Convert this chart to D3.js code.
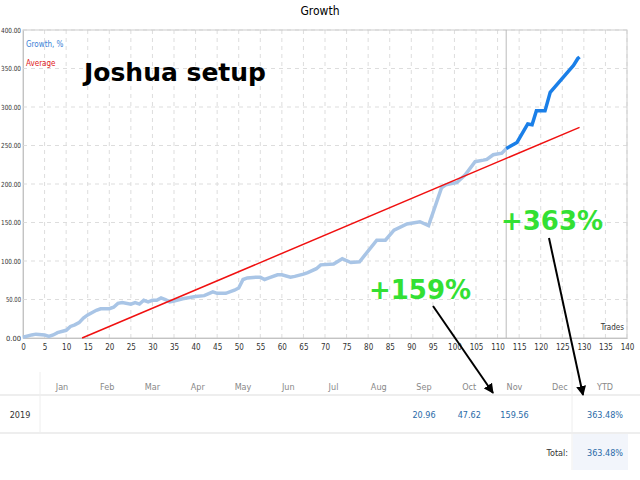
<!DOCTYPE html>
<html><head><meta charset="utf-8">
<script src="https://cdn.jsdelivr.net/npm/d3@7"></script>
<style>body{margin:0;background:#fff}text{font-family:"DejaVu Sans Condensed","Liberation Sans Narrow",sans-serif}</style>
</head><body><svg></svg>
<script>
const width = 640, height = 480
const trades = [0,2,3,5,6,7,8,10,11,12,13,14,15,17,18,20,21,22,23,25,26,27,28,29,30,31,32,33,34,35,37,40,42,44,45,47,49,50,51,52,54,55,56,57,59,60,62,63,65,66,68,69,72,74,76,78,82,84,86,89,92,94,97,98,100.6,102.5,104.8,106.7,107.5,109,111,112]
const growth = [1,4,5,4,2,4,7,10,15,17,20,26,30,36,38,38,40,45,46,44,46,44,49,47,49,49,52,50,47,48,51,54,55,60,58,58,62,65,76,78,79,79,76,78,82,82,79,80,83,85,90,95,96,103,98,99,127,127,140,148,151,146,195,199,202,212,229,231,232,238,240,246]
const trades2 = [112,114.5,117,118,119,121,122.2,124.5,126.8,127.6,128.6,129]
const growth2 = [246,254,278,277,295,295,319,334,349,354,363,365]
const avgTrades = [13.7, 129]
const avgValues = [0, 273.6]
const months = ['Jan','Feb','Mar','Apr','May','Jun','Jul','Aug','Sep','Oct','Nov','Dec','YTD']
const monthValues = ['','','','','','','','','20.96','47.62','159.56','','363.48%']

const svg = d3.select('svg').attr('width', width).attr('height', height)
const x = d3.scaleLinear().domain([0, 140]).range([23, 627])
const y = d3.scaleLinear().domain([0, 400]).range([338, 30])

// grid
svg.append('g').attr('transform', 'translate(0,338)')
  .call(d3.axisBottom(x).tickValues(d3.range(0, 141, 5)).tickSize(0).tickPadding(6))
  .call(g => g.select('.domain').attr('stroke', '#bbb'))
  .selectAll('text').attr('font-size', 8).attr('fill', '#333')
svg.append('g').attr('transform', 'translate(23,0)')
  .call(d3.axisLeft(y).tickValues(d3.range(0, 401, 50)).tickFormat(d3.format('.2f')).tickSize(0).tickPadding(2))
  .call(g => g.select('.domain').attr('stroke', '#bbb'))
  .selectAll('text').attr('font-size', 7).attr('fill', '#333')
    .attr('textLength', d => d >= 100 ? 20 : 15).attr('lengthAdjust', 'spacingAndGlyphs')
svg.append('g').selectAll('line').data(d3.range(5, 141, 5)).join('line')
  .attr('x1', d => x(d)).attr('x2', d => x(d)).attr('y1', 30).attr('y2', 338)
  .attr('stroke', '#ddd').attr('stroke-dasharray', '4,4')
svg.append('g').selectAll('line').data(d3.range(50, 401, 50)).join('line')
  .attr('x1', 23).attr('x2', 627).attr('y1', d => y(d)).attr('y2', d => y(d))
  .attr('stroke', '#ddd').attr('stroke-dasharray', '4,4')
svg.append('rect').attr('x', 23).attr('y', 30).attr('width', 604).attr('height', 308)
  .attr('fill', 'none').attr('stroke', '#ccc')
svg.append('line').attr('x1', x(112)).attr('x2', x(112)).attr('y1', 30).attr('y2', 338).attr('stroke', '#bbb')

const line = d3.line().x(d => x(d[0])).y(d => y(d[1]))
svg.append('path').datum(d3.zip(trades, growth)).attr('d', line)
  .attr('fill', 'none').attr('stroke', '#a9c5e6').attr('stroke-width', 3.5)
svg.append('path').datum(d3.zip(trades2, growth2)).attr('d', line)
  .attr('fill', 'none').attr('stroke', '#1a7fe8').attr('stroke-width', 3.5)
svg.append('path').datum(d3.zip(avgTrades, avgValues)).attr('d', line)
  .attr('fill', 'none').attr('stroke', '#f01010').attr('stroke-width', 1.5)

svg.append('text').attr('x', 320).attr('y', 15).attr('text-anchor', 'middle').attr('font-size', 12).text('Growth')
svg.append('text').attr('x', 26).attr('y', 47).attr('font-size', 8).attr('fill', '#3a7fd5').text('Growth, %')
svg.append('text').attr('x', 26).attr('y', 66).attr('font-size', 8).attr('fill', '#e02020').text('Average')
svg.append('text').attr('x', 624).attr('y', 330).attr('text-anchor', 'end').attr('font-size', 8).attr('fill', '#333').text('Trades')
svg.append('text').attr('x', 84).attr('y', 81).attr('font-size', 25).attr('font-weight', 'bold')
  .style('font-family', 'Verdana, "DejaVu Sans", sans-serif').text('Joshua setup')

// table
const col = d3.scalePoint().domain(months).range([62, 605])
svg.append('line').attr('x1', 0).attr('x2', 640).attr('y1', 395).attr('y2', 395).attr('stroke', '#ddd')
svg.append('line').attr('x1', 0).attr('x2', 640).attr('y1', 433).attr('y2', 433).attr('stroke', '#ddd')
svg.append('line').attr('x1', 40).attr('x2', 40).attr('y1', 372).attr('y2', 433).attr('stroke', '#eee')
svg.append('line').attr('x1', 572).attr('x2', 572).attr('y1', 372).attr('y2', 470).attr('stroke', '#eee')
svg.append('rect').attr('x', 573).attr('y', 434).attr('width', 55).attr('height', 36).attr('fill', '#f2f5fb')
svg.append('g').selectAll('text').data(months).join('text')
  .attr('x', d => col(d)).attr('y', 390).attr('text-anchor', 'middle').attr('font-size', 9).attr('fill', '#888').text(d => d)
svg.append('g').selectAll('text').data(monthValues).join('text')
  .attr('x', (d, i) => col(months[i])).attr('y', 418).attr('text-anchor', 'middle').attr('font-size', 9).attr('fill', '#2a6aa8').text(d => d)
svg.append('text').attr('x', 20).attr('y', 418).attr('text-anchor', 'middle').attr('font-size', 9).attr('fill', '#333').text('2019')
svg.append('text').attr('x', 568).attr('y', 456).attr('text-anchor', 'end').attr('font-size', 9).attr('fill', '#333').text('Total:')
svg.append('text').attr('x', 605).attr('y', 456).attr('text-anchor', 'middle').attr('font-size', 9).attr('fill', '#2a6aa8').text('363.48%')

// annotations
svg.append('defs').append('marker').attr('id', 'ah').attr('viewBox', '0 0 10 10').attr('refX', 9).attr('refY', 5)
  .attr('markerWidth', 5).attr('markerHeight', 5).attr('orient', 'auto')
  .append('path').attr('d', 'M0,0L10,5L0,10z').attr('fill', '#000')
svg.append('line').attr('x1', 433).attr('y1', 306).attr('x2', 493).attr('y2', 393).attr('stroke', '#000').attr('stroke-width', 2).attr('marker-end', 'url(#ah)')
svg.append('line').attr('x1', 549).attr('y1', 238).attr('x2', 583).attr('y2', 395).attr('stroke', '#000').attr('stroke-width', 2).attr('marker-end', 'url(#ah)')
svg.append('text').attr('x', 420).attr('y', 299).attr('text-anchor', 'middle').attr('font-size', 26).attr('font-weight', 'bold')
  .attr('fill', '#33e033').style('font-family', 'Verdana, "DejaVu Sans", sans-serif').text('+159%')
svg.append('text').attr('x', 552).attr('y', 230).attr('text-anchor', 'middle').attr('font-size', 26).attr('font-weight', 'bold')
  .attr('fill', '#33e033').style('font-family', 'Verdana, "DejaVu Sans", sans-serif').text('+363%')
</script></body></html>
